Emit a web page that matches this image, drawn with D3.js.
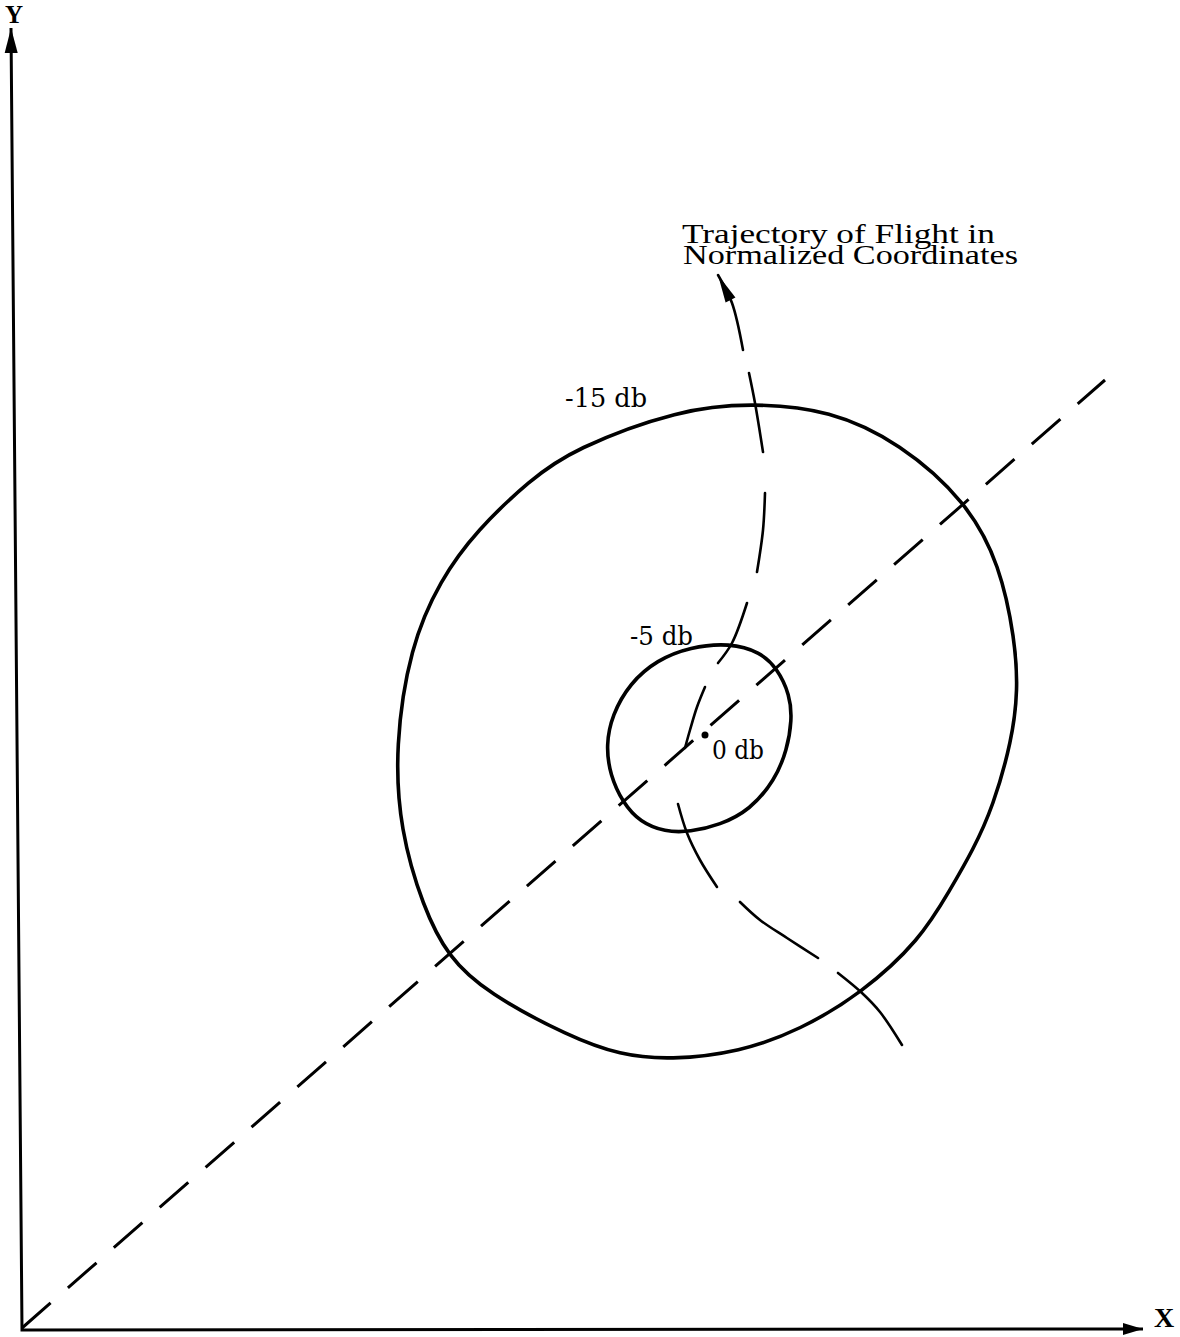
<!DOCTYPE html>
<html>
<head>
<meta charset="utf-8">
<script src="https://cdn.jsdelivr.net/npm/d3@7"></script>
<style>
  html, body { margin: 0; padding: 0; background: #fff; }
  text { fill: #000; }
</style>
</head>
<body>
<div id="chart"></div>
<script>
// Drawing units: origin at the axes corner
const xAxisEnd = [1121, 1];
const yAxisEnd = [-11, 1302];
const axisNames = ["X", "Y"];

// dashed 45-ish degree reference line
const diagonal = [[0, 2], [1083, 950]];

// -15 db contour (closed)
const outerContour = [
    [731, 927], [808, 920], [878, 887], [945, 828], [978, 765], [993, 690],
    [996, 640], [990, 590], [971, 523], [951, 480], [928, 440], [898, 390],
    [840, 337], [778, 300], [718, 278], [648, 270], [598, 275], [548, 293],
    [465, 337], [426, 373], [401, 423], [378, 500], [373, 583], [388, 683],
    [418, 750], [455, 800], [508, 850], [551, 881], [658, 921]
];

// -5 db contour (closed)
const innerContour = [
    [708, 687], [738, 678], [755, 662], [768, 635], [770, 610], [765, 580],
    [753, 550], [728, 520], [698, 505], [668, 498], [643, 498], [618, 508],
    [601, 527], [588, 555], [584, 585], [590, 615], [608, 647], [635, 670],
    [668, 683]
];

// peak point
const peak = [683, 595];

// hand drawn dashes of the flight trajectory, bottom to top
const trajectory = [
    [[880, 285], [858, 318], [840, 337], [816, 357]],
    [[796, 372], [765, 392], [738, 410], [718, 428]],
    [[695, 443], [678, 470], [665, 497], [656, 526]],
    [[663, 582], [668, 600], [675, 623], [683, 643]],
    [[696, 667], [710, 687], [725, 727]],
    [[735, 758], [741, 800], [743, 837]],
    [[741, 878], [733, 927], [727, 957]],
    [[721, 980], [710, 1027], [696, 1055]]
];

const labels = [
    { text: "-15 db", at: [543, 923], len: 82 },
    { text: "-5 db", at: [608, 685], len: 63 },
    { text: "0 db", at: [690, 571], len: 52 }
];
const titleLines = ["Trajectory of Flight in", "Normalized Coordinates"];
const titleAt = [[660, 1087], [661, 1066]];
const titleLen = [313, 335];

const width = 1180, height = 1337;

const svg = d3.select("#chart")
    .append("svg")
    .attr("width", width)
    .attr("height", height);

const x = d3.scaleLinear().domain([0, 1121]).range([22, 1143]);
const y = d3.scaleLinear().domain([0, 1302]).range([1330, 28]);

const line = d3.line().x(d => x(d[0])).y(d => y(d[1]));
const closed = d3.line().x(d => x(d[0])).y(d => y(d[1])).curve(d3.curveBasisClosed);
const smooth = d3.line().x(d => x(d[0])).y(d => y(d[1])).curve(d3.curveCatmullRom);

// filled triangle at tip, pointing away from "from"
function arrowHead(tip, from, len, half) {
    const tx = x(tip[0]), ty = y(tip[1]);
    const dx = tx - x(from[0]), dy = ty - y(from[1]);
    const n = Math.hypot(dx, dy), ux = dx / n, uy = dy / n;
    const bx = tx - ux * len, by = ty - uy * len;
    return `M${tx},${ty}L${bx - uy * half},${by + ux * half}L${bx + uy * half},${by - ux * half}Z`;
}

// Axes
svg.append("path")
    .attr("d", line([yAxisEnd, [0, 0], xAxisEnd]))
    .attr("fill", "none")
    .attr("stroke", "#000")
    .attr("stroke-width", 3);

svg.append("path").attr("d", arrowHead(yAxisEnd, [0, 0], 25, 6.5));
svg.append("path").attr("d", arrowHead(xAxisEnd, [0, 0], 20, 6));

svg.append("text")
    .attr("x", x(xAxisEnd[0]) + 11)
    .attr("y", y(xAxisEnd[1]) - 2)
    .attr("font-family", "Liberation Serif")
    .attr("font-weight", "bold")
    .attr("font-size", 28)
    .text(axisNames[0]);

svg.append("text")
    .attr("x", x(yAxisEnd[0]) + 3)
    .attr("y", y(yAxisEnd[1]) - 5)
    .attr("text-anchor", "middle")
    .attr("font-family", "Liberation Serif")
    .attr("font-weight", "bold")
    .attr("font-size", 25)
    .text(axisNames[1]);

// Dashed diagonal
svg.append("path")
    .attr("d", line(diagonal))
    .attr("fill", "none")
    .attr("stroke", "#000")
    .attr("stroke-width", 3)
    .attr("stroke-dasharray", "38,23");

// Contours
svg.selectAll(".contour")
    .data([outerContour, innerContour])
    .enter().append("path")
    .attr("class", "contour")
    .attr("d", closed)
    .attr("fill", "none")
    .attr("stroke", "#000")
    .attr("stroke-width", 3.6);

// Trajectory dashes
svg.selectAll(".traj")
    .data(trajectory)
    .enter().append("path")
    .attr("class", "traj")
    .attr("d", smooth)
    .attr("fill", "none")
    .attr("stroke", "#000")
    .attr("stroke-width", 2.6)
    .attr("stroke-linecap", "round");

const lastDash = trajectory[trajectory.length - 1];
svg.append("path")
    .attr("d", arrowHead(lastDash[lastDash.length - 1], lastDash[lastDash.length - 2], 28, 5.5));

// peak dot
svg.append("circle")
    .attr("cx", x(peak[0]))
    .attr("cy", y(peak[1]))
    .attr("r", 3.5);

// Contour labels
svg.selectAll(".lbl")
    .data(labels)
    .enter().append("text")
    .attr("class", "lbl")
    .attr("x", d => x(d.at[0]))
    .attr("y", d => y(d.at[1]))
    .attr("font-family", "DejaVu Serif")
    .attr("font-size", 26)
    .attr("textLength", d => d.len)
    .attr("lengthAdjust", "spacingAndGlyphs")
    .text(d => d.text);

// Trajectory caption (the two typed lines sit tight, as in the original)
svg.selectAll(".title")
    .data(titleLines)
    .enter().append("text")
    .attr("class", "title")
    .attr("x", (d, i) => x(titleAt[i][0]))
    .attr("y", (d, i) => y(titleAt[i][1]))
    .attr("font-family", "Liberation Serif")
    .attr("font-size", 28)
    .attr("textLength", (d, i) => titleLen[i])
    .attr("lengthAdjust", "spacingAndGlyphs")
    .text(d => d);
</script>
</body>
</html>
